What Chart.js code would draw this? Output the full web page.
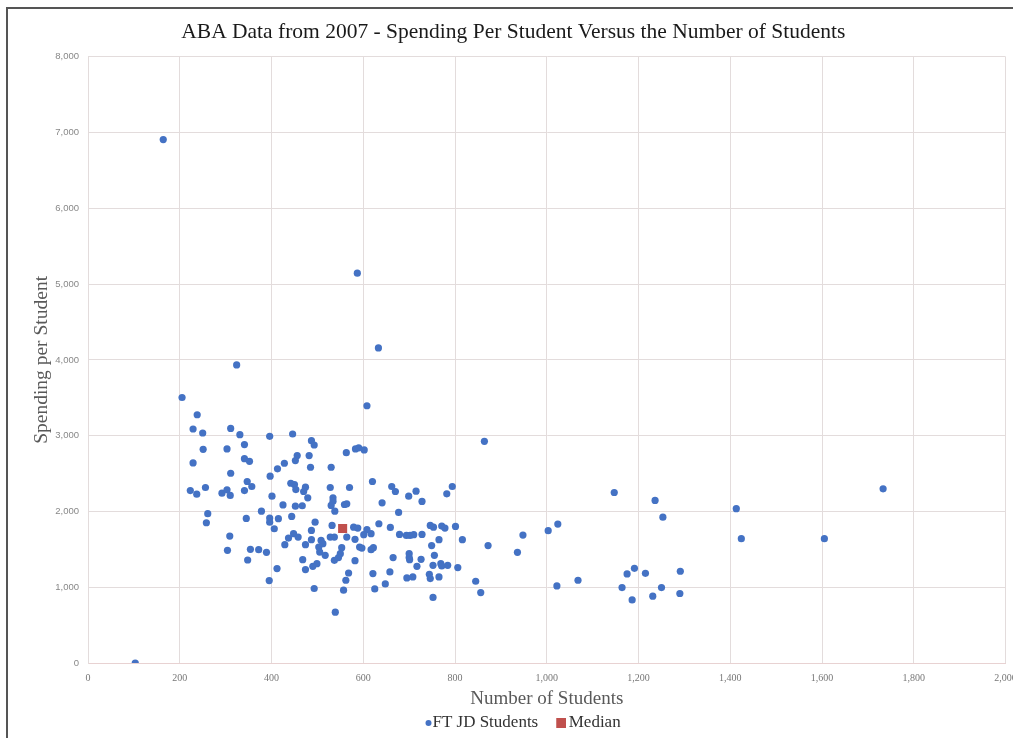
<!DOCTYPE html>
<html>
<head>
<meta charset="utf-8">
<script src="https://cdn.jsdelivr.net/npm/chart.js@4.4.1/dist/chart.umd.min.js"></script>
<style>
  html, body { margin: 0; padding: 0; background: #ffffff; overflow: hidden; }
  #wrap { position: relative; width: 1030px; height: 738px; }
  #frame {
    position: absolute; left: 6px; top: 7px; width: 1100px; height: 800px;
    border-left: 2px solid #555; border-top: 2px solid #555; pointer-events: none;
  }
</style>
</head>
<body>
<div id="wrap">
  <canvas id="scatterChart" width="1030" height="738"></canvas>
  <div id="frame"></div>
</div>
<script>
// Number of full-time JD students (x) and spending per student (y)
const studentCounts = [
  205, 238, 229, 250, 311, 331, 396, 446, 251, 303, 341, 229, 341, 352, 487, 493,
  456, 452, 482, 428, 413, 485, 563, 530, 311, 397, 347, 357, 341, 256, 223, 237,
  292, 303, 310, 442, 450, 453, 474, 470, 479, 528, 534, 534, 530, 559, 570, 401,
  425, 452, 467, 538, 378, 261, 258, 345, 396, 396, 415, 444, 495, 532, 406, 487,
  309, 304, 354, 372, 389, 348, 429, 437, 448, 458, 474, 487, 508, 512, 503, 505,
  517, 528, 537, 553, 550, 546, 537, 564, 468, 474, 490, 499, 412, 395, 493, 557,
  562, 568, 539,
  608, 864, 583, 590, 602, 620, 662, 670, 715, 699, 728, 641, 564, 677, 794, 782,
  579, 588, 608, 634, 659, 746, 753, 771, 778, 801,
  601, 617, 679, 694, 702, 710, 728, 765, 749, 816, 872, 948, 936, 582, 592, 597,
  617, 622, 582, 665, 700, 700, 701, 726, 717, 755, 752, 769, 771, 784, 806, 621,
  625, 648, 658, 695, 708, 744, 746, 765, 752, 845, 856,
  1147, 1236, 1253, 1003, 1024,
  1022, 1068, 1164, 1175, 1191, 1215, 1186, 1231, 1250, 1291, 1290,
  1733, 1413, 1424, 1605,
  164, 587, 633, 324, 103
];
const spendingPerStudent = [
  3504, 3276, 3088, 3035, 3096, 3013, 2991, 3022, 2820, 2825, 2882, 2641, 2697, 2662, 2934, 2877,
  2737, 2671, 2737, 2636, 2562, 2583, 2776, 2583, 2504, 2465, 2395, 2329, 2276, 2316, 2276, 2228,
  2241, 2286, 2211, 2372, 2355, 2289, 2320, 2263, 2180, 2316, 2180, 2136, 2079, 2092, 2316, 2201,
  2086, 2070, 2075, 2004, 2004, 1970, 1851, 1908, 1912, 1859, 1904, 1934, 1859, 1816, 1772, 1750,
  1675, 1487, 1500, 1496, 1461, 1359, 1562, 1649, 1707, 1662, 1562, 1628, 1618, 1575, 1530, 1464,
  1421, 1662, 1662, 1522, 1443, 1391, 1355, 1662, 1364, 1233, 1276, 1311, 1246, 1088, 983, 961,
  1092, 1188, 671,
  3395, 2925, 2825, 2840, 2812, 2395, 2329, 2263, 2267, 2201, 2132, 2114, 2101, 1987, 2329, 2233,
  1793, 1780, 1759, 1838, 1789, 1816, 1793, 1807, 1780, 1803,
  1693, 1707, 1697, 1684, 1684, 1693, 1697, 1628, 1549, 1628, 1549, 1688, 1461, 1632, 1530, 1517,
  1496, 1522, 1351, 1391, 1443, 1391, 1364, 1368, 1276, 1421, 1289, 1311, 1280, 1289, 1259, 1180,
  978, 1044, 1202, 1123, 1136, 1171, 1114, 1136, 865, 1079, 930,
  2250, 2145, 1925, 1746, 1833,
  1017, 1092, 996, 1175, 1250, 1184, 833, 882, 996, 1211, 917,
  2299, 2036, 1641, 1641,
  6908, 5145, 4158, 3934, 0
];
const medianStudents = [555];
const medianSpending = [1775];

const xTicks = [0, 200, 400, 600, 800, 1000, 1200, 1400, 1600, 1800, 2000];
const yTicks = [0, 1000, 2000, 3000, 4000, 5000, 6000, 7000, 8000];

const ftPoints = studentCounts.map((x, i) => ({ x: x, y: spendingPerStudent[i] }));
const medianPoints = medianStudents.map((x, i) => ({ x: x, y: medianSpending[i] }));

const serif = "'Liberation Serif', 'DejaVu Serif', serif";
const gridColor = '#e3dcdc';
const blue = '#4472c4';
const red = '#c0504d';

// legend markers drawn off-centre so they sit close to their label
function legendMarker(kind, color) {
  const c = document.createElement('canvas');
  const g = c.getContext('2d');
  if (kind === 'dot') {
    c.width = 34; c.height = 8;
    g.fillStyle = color;
    g.beginPath();
    g.arc(30.5, 4, 3, 0, Math.PI * 2);
    g.fill();
  } else {
    c.width = 30; c.height = 10;
    g.fillStyle = color;
    g.fillRect(20, 0, 10, 10);
  }
  return c;
}
const markers = [legendMarker('dot', blue), legendMarker('square', red)];

const ctx = document.getElementById('scatterChart').getContext('2d');
const scatterChart = new Chart(ctx, {
  type: 'scatter',
  data: {
    datasets: [{
      label: 'FT JD Students',
      data: ftPoints,
      backgroundColor: blue,
      borderColor: blue,
      borderWidth: 0,
      pointRadius: 3.6,
      pointHoverRadius: 3.6,
      pointStyle: 'circle'
    }, {
      label: 'Median',
      data: medianPoints,
      backgroundColor: red,
      borderColor: red,
      borderWidth: 0,
      pointRadius: 6.4,
      pointHoverRadius: 6.4,
      pointStyle: 'rect'
    }]
  },
  options: {
    responsive: false,
    animation: false,
    layout: { padding: { left: 21, right: 24.4, top: 0, bottom: -3.5 } },
    plugins: {
      title: {
        display: true,
        text: 'ABA Data from 2007 - Spending Per Student Versus the Number of Students',
        color: '#1a1a1a',
        font: { family: serif, size: 21.5, weight: 'normal' },
        padding: { top: 19, bottom: 12 }
      },
      legend: {
        display: true,
        position: 'bottom',
        labels: {
          color: '#333',
          font: { family: serif, size: 17 },
          usePointStyle: true,
          pointStyleWidth: 18,
          boxHeight: 8,
          padding: 4,
          generateLabels: (chart) => {
            const items = Chart.defaults.plugins.legend.labels.generateLabels(chart);
            items.forEach((item, i) => { item.pointStyle = markers[i]; });
            return items;
          }
        }
      },
      tooltip: { enabled: false }
    },
    scales: {
      x: {
        type: 'linear',
        min: 0,
        max: 2000,
        afterBuildTicks: (scale) => { scale.ticks = xTicks.map(v => ({ value: v })); },
        afterFit: (scale) => {
          scale.height = 47.5;
          scale.paddingLeft = 0;
          scale.paddingRight = 0;
        },
        grid: { color: gridColor, drawTicks: false },
        border: { color: '#e8d2d2' },
        ticks: {
          color: '#777',
          font: { family: serif, size: 10 },
          padding: 9,
          maxRotation: 0
        },
        title: {
          display: true,
          text: 'Number of Students',
          color: '#595959',
          font: { family: serif, size: 19 },
          padding: { top: 4, bottom: 0 }
        }
      },
      y: {
        type: 'linear',
        min: 0,
        max: 8000,
        afterBuildTicks: (scale) => { scale.ticks = yTicks.map(v => ({ value: v })); },
        afterFit: (scale) => { scale.width = 67; },
        grid: { color: gridColor, drawTicks: false },
        border: { color: gridColor },
        ticks: {
          color: '#888',
          font: { family: "'Liberation Sans', 'DejaVu Sans', sans-serif", size: 9.5 },
          padding: 9,
          callback: (v) => v.toLocaleString('en-US')
        },
        title: {
          display: true,
          text: 'Spending per Student',
          color: '#595959',
          font: { family: serif, size: 19.5 },
          padding: { top: 9, bottom: 0 }
        }
      }
    }
  }
});
</script>
</body>
</html>
